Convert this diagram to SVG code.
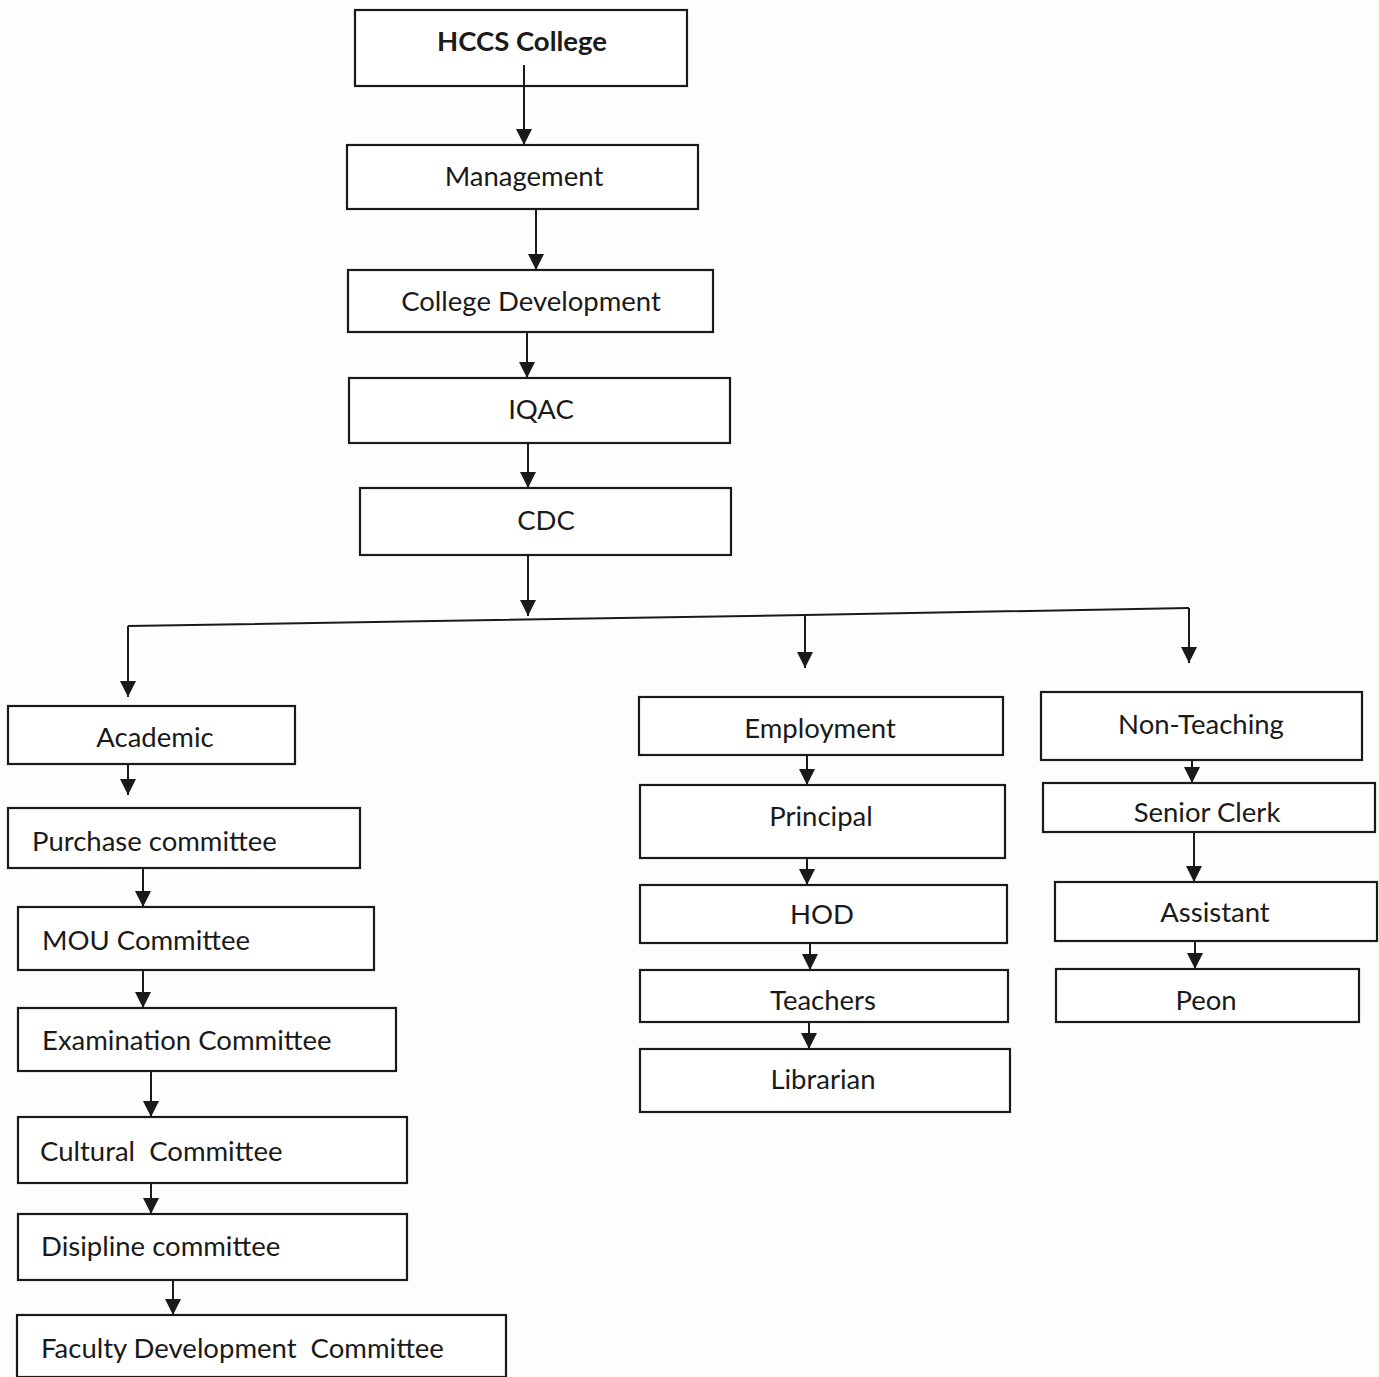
<svg xmlns="http://www.w3.org/2000/svg" width="1379" height="1377" viewBox="0 0 1379 1377">
<style>
.box{fill:#fff;stroke:#1a1a1a;stroke-width:2.2}
.t{font-family:Lato,"Open Sans","Liberation Sans",sans-serif;font-size:27.5px;fill:#1a1a1a}
.c{text-anchor:middle}
.b{font-weight:bold}
.ln{fill:none;stroke:#1a1a1a;stroke-width:2}
</style>
<defs>
<marker id="ah" markerUnits="userSpaceOnUse" markerWidth="16" markerHeight="16" viewBox="0 0 16 16" refX="16" refY="8" orient="auto">
<path d="M0,0 L16,8 L0,16 z" fill="#1a1a1a"/>
</marker>
</defs>
<rect width="1379" height="1377" fill="#fdfdfc"/>
<g id="hccs"><rect class="box" x="355" y="10" width="332" height="76"/><text class="t c b" x="522" y="51">HCCS College</text></g>
<g id="management"><rect class="box" x="347" y="145" width="351" height="64"/><text class="t c" x="524" y="186">Management</text></g>
<g id="college-development"><rect class="box" x="348" y="270" width="365" height="62"/><text class="t c" x="531" y="311">College Development</text></g>
<g id="iqac"><rect class="box" x="349" y="378" width="381" height="65"/><text class="t c" x="541" y="419">IQAC</text></g>
<g id="cdc"><rect class="box" x="360" y="488" width="371" height="67"/><text class="t c" x="546" y="530">CDC</text></g>
<g id="academic"><rect class="box" x="8" y="706" width="287" height="58"/><text class="t c" x="155" y="747">Academic</text></g>
<g id="purchase"><rect class="box" x="8" y="808" width="352" height="60"/><text class="t" x="32" y="851">Purchase committee</text></g>
<g id="mou"><rect class="box" x="18" y="907" width="356" height="63"/><text class="t" x="42" y="950">MOU Committee</text></g>
<g id="examination"><rect class="box" x="18" y="1008" width="378" height="63"/><text class="t" x="42" y="1050">Examination Committee</text></g>
<g id="cultural"><rect class="box" x="18" y="1117" width="389" height="66"/><text class="t" x="40" y="1161" xml:space="preserve">Cultural  Committee</text></g>
<g id="disipline"><rect class="box" x="18" y="1214" width="389" height="66"/><text class="t" x="41" y="1256">Disipline committee</text></g>
<g id="faculty"><rect class="box" x="17" y="1315" width="489" height="62"/><text class="t" x="41" y="1358" xml:space="preserve">Faculty Development  Committee</text></g>
<g id="employment"><rect class="box" x="639" y="697" width="364" height="58"/><text class="t c" x="820" y="738">Employment</text></g>
<g id="principal"><rect class="box" x="640" y="785" width="365" height="73"/><text class="t c" x="821" y="826">Principal</text></g>
<g id="hod"><rect class="box" x="640" y="885" width="367" height="58"/><text class="t c" x="822" y="924">HOD</text></g>
<g id="teachers"><rect class="box" x="640" y="970" width="368" height="52"/><text class="t c" x="823" y="1010">Teachers</text></g>
<g id="librarian"><rect class="box" x="640" y="1049" width="370" height="63"/><text class="t c" x="823" y="1089">Librarian</text></g>
<g id="non-teaching"><rect class="box" x="1041" y="692" width="321" height="68"/><text class="t c" x="1201" y="734">Non-Teaching</text></g>
<g id="senior-clerk"><rect class="box" x="1043" y="783" width="332" height="49"/><text class="t c" x="1207" y="822">Senior Clerk</text></g>
<g id="assistant"><rect class="box" x="1055" y="882" width="322" height="59"/><text class="t c" x="1215" y="922">Assistant</text></g>
<g id="peon"><rect class="box" x="1056" y="969" width="303" height="53"/><text class="t c" x="1206" y="1010">Peon</text></g>
<g id="connectors">
<line class="ln" x1="524" y1="65" x2="524" y2="145" marker-end="url(#ah)"/>
<line class="ln" x1="536" y1="209" x2="536" y2="270" marker-end="url(#ah)"/>
<line class="ln" x1="527" y1="332" x2="527" y2="378" marker-end="url(#ah)"/>
<line class="ln" x1="528" y1="443" x2="528" y2="488" marker-end="url(#ah)"/>
<line class="ln" x1="528" y1="555" x2="528" y2="616" marker-end="url(#ah)"/>
<polyline class="ln" points="128,626 805,615 1189,608"/>
<line class="ln" x1="128" y1="626" x2="128" y2="697" marker-end="url(#ah)"/>
<line class="ln" x1="805" y1="615" x2="805" y2="668" marker-end="url(#ah)"/>
<line class="ln" x1="1189" y1="608" x2="1189" y2="663" marker-end="url(#ah)"/>
<line class="ln" x1="128" y1="764" x2="128" y2="795" marker-end="url(#ah)"/>
<line class="ln" x1="143" y1="868" x2="143" y2="907" marker-end="url(#ah)"/>
<line class="ln" x1="143" y1="970" x2="143" y2="1008" marker-end="url(#ah)"/>
<line class="ln" x1="151" y1="1071" x2="151" y2="1117" marker-end="url(#ah)"/>
<line class="ln" x1="151" y1="1183" x2="151" y2="1214" marker-end="url(#ah)"/>
<line class="ln" x1="173" y1="1280" x2="173" y2="1315" marker-end="url(#ah)"/>
<line class="ln" x1="807" y1="755" x2="807" y2="785" marker-end="url(#ah)"/>
<line class="ln" x1="807" y1="858" x2="807" y2="885" marker-end="url(#ah)"/>
<line class="ln" x1="810" y1="943" x2="810" y2="970" marker-end="url(#ah)"/>
<line class="ln" x1="809" y1="1022" x2="809" y2="1049" marker-end="url(#ah)"/>
<line class="ln" x1="1192" y1="760" x2="1192" y2="783" marker-end="url(#ah)"/>
<line class="ln" x1="1194" y1="832" x2="1194" y2="882" marker-end="url(#ah)"/>
<line class="ln" x1="1195" y1="941" x2="1195" y2="969" marker-end="url(#ah)"/>
</g>
</svg>
